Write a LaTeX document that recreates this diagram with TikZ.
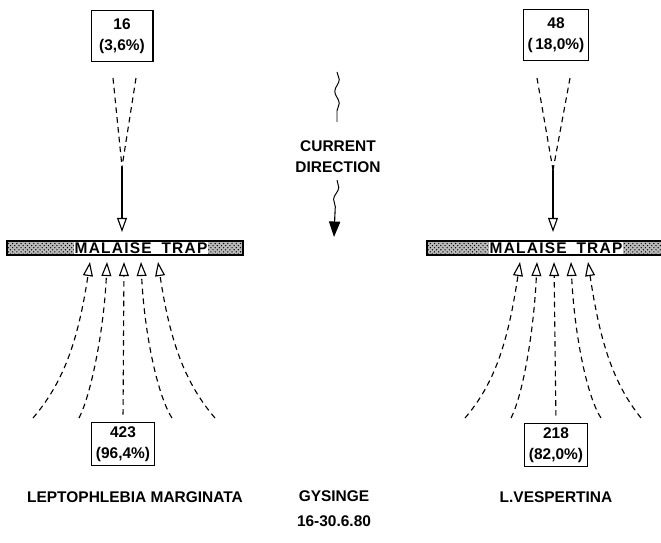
\documentclass[tikz,border=0pt]{standalone}
\usepackage{fontspec}
\setmainfont{Liberation Sans}
\newfontfamily\trapfont[LetterSpace=8]{Liberation Sans}
\usepackage{tikz}
\usetikzlibrary{arrows.meta, patterns, decorations.pathmorphing}

\begin{document}
\begin{tikzpicture}[
  x=0.025cm, y=-0.025cm,
  font=\bfseries\fontsize{11}{15}\selectfont,
  countbox/.style={draw, line width=0.8pt, align=center, inner sep=3pt,
                   minimum width=44pt},
  trapbar/.style={draw, line width=1.1pt, minimum width=168pt, minimum height=10pt,
                  inner sep=0pt, preaction={fill=gray!55},
                  pattern=crosshatch dots, pattern color=black},
  traplabel/.style={fill=white, inner sep=0.6pt,
                    font=\trapfont\bfseries\fontsize{11}{13}\selectfont},
  flow/.style={dash pattern=on 4pt off 3pt, line width=0.8pt},
  flowarr/.style={flow, -{Triangle[open, length=10pt, width=7pt]}},
  tiparr/.style={line width=0.8pt, -{Triangle[open, length=10pt, width=7pt]}},
  wave/.style={decorate, decoration={snake, amplitude=1.6pt, segment length=17pt},
               line width=0.7pt}
]
\useasboundingbox (0,0) rectangle (661,543);

%% Count boxes
\node[countbox, minimum height=36pt] (upL) at (122,36) {16\\(3,6\%)};
\node[countbox, minimum height=36pt] (upR) at (556,35) {48\\(\,18,0\%)};
\node[countbox] (downL) at (123,444) {423\\(96,4\%)};
\node[countbox] (downR) at (556,445) {218\\(82,0\%)};

%% Malaise traps
\node[trapbar] (trapL) at (125,248) {};
\node[trapbar] (trapR) at (545,248) {};
\node[traplabel] (labL) at (141,248) {MALAISE\hspace{7pt}TRAP};
\node[traplabel] (labR) at (556,248) {MALAISE\hspace{7pt}TRAP};

%% Upstream flow, left
\coordinate (vaL) at (113,78);
\coordinate (vbL) at (136,78);
\coordinate (vmL) at (122,167);
\coordinate (vtL) at (122,232);
\draw[flow] (vaL) -- (vmL);
\draw[flow] (vbL) -- (vmL);
\draw[tiparr] (vmL) -- (vtL);

%% Upstream flow, right
\coordinate (vaR) at (537,78);
\coordinate (vbR) at (570,78);
\coordinate (vmR) at (553,170);
\coordinate (vtR) at (553,232);
\draw[flow] (vaR) -- (vmR);
\draw[flow] (vbR) -- (vmR);
\draw[tiparr] (vmR) -- (vtR);

%% Downstream flow, left
\coordinate (e1L) at (33,418);
\coordinate (e2L) at (79,418);
\coordinate (e4L) at (172,418);
\coordinate (e5L) at (215,418);
\coordinate (t1L) at (90,262);
\coordinate (t2L) at (107,262);
\coordinate (t3L) at (124,262);
\coordinate (t4L) at (141,262);
\coordinate (t5L) at (158,262);
\draw[flowarr] (e1L) .. controls (63,383) and (78,342) .. (t1L);
\draw[flowarr] (e2L) .. controls (91,395) and (104,330) .. (t2L);
\draw[flowarr, shorten <=5pt] (downL.north) -- (t3L);
\draw[flowarr] (e4L) .. controls (157,395) and (144,330) .. (t4L);
\draw[flowarr] (e5L) .. controls (185,383) and (170,342) .. (t5L);

%% Downstream flow, right
\coordinate (e1R) at (465,418);
\coordinate (e2R) at (511,418);
\coordinate (e4R) at (601,418);
\coordinate (e5R) at (641,418);
\coordinate (t1R) at (520,262);
\coordinate (t2R) at (537,262);
\coordinate (t3R) at (554,262);
\coordinate (t4R) at (571,262);
\coordinate (t5R) at (588,262);
\draw[flowarr] (e1R) .. controls (495,383) and (508,342) .. (t1R);
\draw[flowarr] (e2R) .. controls (523,395) and (534,330) .. (t2R);
\draw[flowarr, shorten <=5pt] (downR.north) -- (t3R);
\draw[flowarr] (e4R) .. controls (586,395) and (574,330) .. (t4R);
\draw[flowarr] (e5R) .. controls (613,383) and (600,342) .. (t5R);

%% Current direction
\node[align=center] (cur) at (338,157) {CURRENT\\DIRECTION};
\coordinate (wa) at (337,72);
\coordinate (wb) at (337,122);
\coordinate (wc) at (337,180);
\coordinate (wd) at (335,212);
\coordinate (we) at (334,237);
\draw[wave] (wa) -- (wb);
\draw[wave] (wc) -- (wd);
\draw[line width=0.8pt, -{Triangle[length=11pt, width=8pt]}] (wd) -- (we);

%% Species and site
\node (spL) at (135,497) {LEPTOPHLEBIA MARGINATA};
\node[align=center] (site) at (334,509) {GYSINGE\\[3pt]16-30.6.80};
\node (spR) at (556,497) {L.VESPERTINA};
\end{tikzpicture}
\end{document}
